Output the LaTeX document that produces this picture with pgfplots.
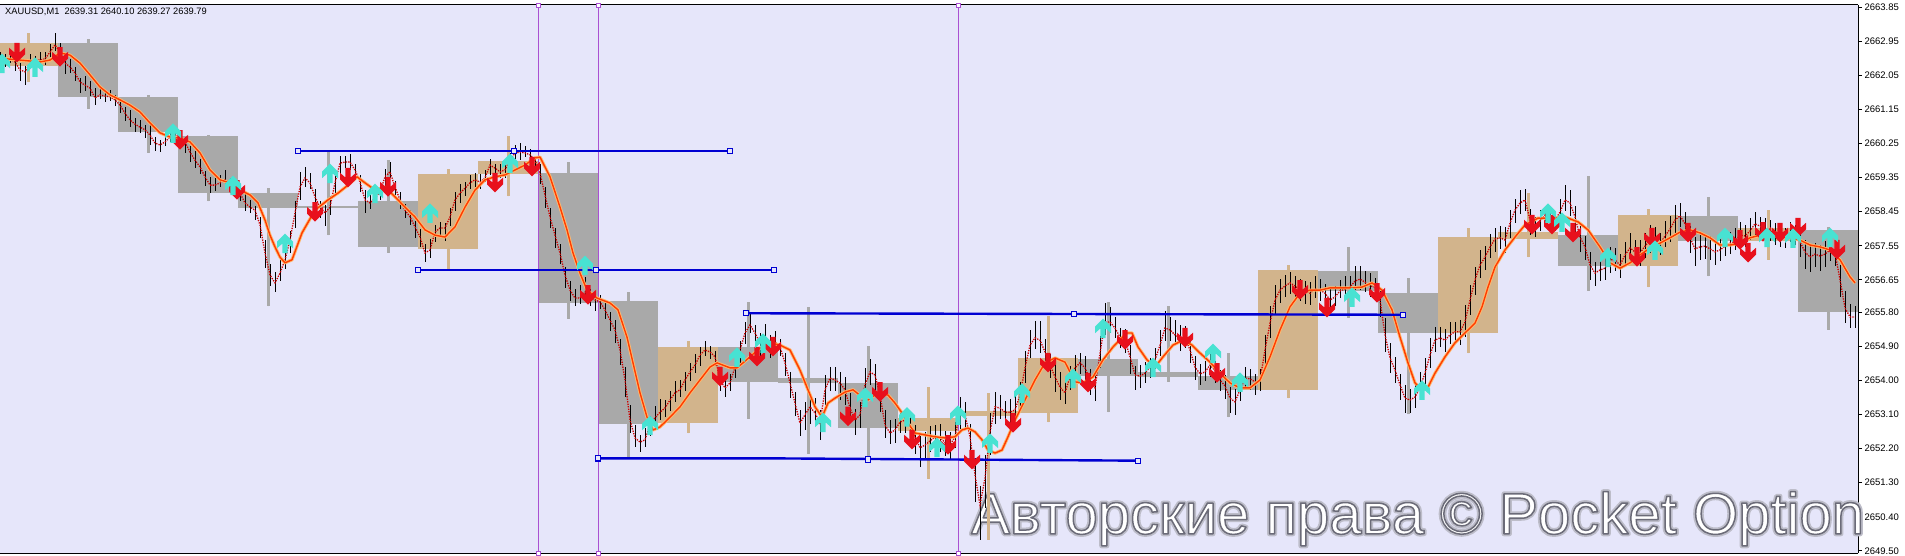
\documentclass[border=0pt]{standalone}
\usepackage{fontspec}
\setmainfont{Liberation Sans}
\usepackage{pgfplots}
\pgfplotsset{compat=1.18}
\usepackage{pgfplotstable}
\definecolor{bg}{RGB}{230,230,250}
\definecolor{boxtan}{RGB}{210,180,140}
\definecolor{boxgray}{RGB}{169,169,169}
\definecolor{maorange}{RGB}{255,60,0}
\definecolor{mahalo}{RGB}{255,185,110}
\definecolor{lvl}{RGB}{0,0,210}
\definecolor{vline}{RGB}{170,80,210}
\definecolor{arrred}{RGB}{232,16,28}
\definecolor{arrcyan}{RGB}{72,226,210}
\definecolor{wmhalo}{RGB}{185,185,198}

\pgfdeclareplotmark{dnarrow}{%
 \pgfpathmoveto{\pgfqpoint{-2.7pt}{10pt}}%
 \pgfpathlineto{\pgfqpoint{2.7pt}{10pt}}%
 \pgfpathlineto{\pgfqpoint{2.7pt}{0.5pt}}%
 \pgfpathlineto{\pgfqpoint{8pt}{5.2pt}}%
 \pgfpathlineto{\pgfqpoint{8pt}{-1.5pt}}%
 \pgfpathlineto{\pgfqpoint{0pt}{-9.5pt}}%
 \pgfpathlineto{\pgfqpoint{-8pt}{-1.5pt}}%
 \pgfpathlineto{\pgfqpoint{-8pt}{5.2pt}}%
 \pgfpathlineto{\pgfqpoint{-2.7pt}{0.5pt}}%
 \pgfpathclose\pgfusepathqfill}
\pgfdeclareplotmark{uparrow}{%
 \pgfpathmoveto{\pgfqpoint{-2.7pt}{-10pt}}%
 \pgfpathlineto{\pgfqpoint{2.7pt}{-10pt}}%
 \pgfpathlineto{\pgfqpoint{2.7pt}{-0.5pt}}%
 \pgfpathlineto{\pgfqpoint{8pt}{-5.2pt}}%
 \pgfpathlineto{\pgfqpoint{8pt}{1.5pt}}%
 \pgfpathlineto{\pgfqpoint{0pt}{9.5pt}}%
 \pgfpathlineto{\pgfqpoint{-8pt}{1.5pt}}%
 \pgfpathlineto{\pgfqpoint{-8pt}{-5.2pt}}%
 \pgfpathlineto{\pgfqpoint{-2.7pt}{-0.5pt}}%
 \pgfpathclose\pgfusepathqfill}

\pgfplotstableread{
xc bl bh wl wh
28 2662.29 2662.90 2661.87 2663.16
448 2657.47 2659.44 2656.91 2659.58
508 2659.44 2659.79 2658.86 2660.45
688 2652.87 2654.88 2652.61 2655.04
928 2652.66 2653.01 2651.40 2653.82
988 2653.06 2653.19 2649.79 2653.67
1048 2653.14 2654.59 2652.90 2655.70
1288 2653.75 2656.91 2653.53 2657.04
1468 2655.25 2657.78 2654.72 2658.02
1528 2657.73 2657.91 2657.25 2658.94
1648 2657.02 2658.36 2656.46 2658.52
1768 2657.68 2658.02 2657.18 2658.49
}\tanboxes

\pgfplotstableread{
xc bl bh wl wh
88 2661.48 2662.90 2661.16 2663.01
148 2660.55 2661.48 2660.00 2661.53
208 2658.94 2660.45 2658.73 2660.47
268 2658.55 2658.94 2655.96 2659.07
328 2658.55 2658.60 2657.83 2660.08
388 2657.52 2658.73 2657.36 2659.81
568 2656.04 2659.47 2655.62 2659.76
628 2652.85 2656.09 2651.95 2656.33
748 2653.96 2654.88 2652.98 2656.07
808 2653.93 2654.06 2652.06 2655.94
868 2652.74 2653.93 2651.98 2654.91
1108 2654.11 2654.56 2653.16 2656.07
1168 2654.09 2654.22 2653.96 2655.96
1228 2653.75 2654.11 2653.03 2654.72
1348 2656.36 2656.88 2655.65 2657.52
1408 2655.25 2656.30 2653.11 2656.70
1588 2657.02 2657.83 2656.36 2659.39
1708 2657.68 2658.34 2656.75 2658.84
1828 2655.80 2657.97 2655.33 2658.05
}\grayboxes

\pgfplotstableread{
x c dn up
0 2662.45 0.15 0.20
5 2662.48 0.20 0.12
10 2662.48 0.12 0.25
15 2662.40 0.25 0.15
20 2662.19 0.30 0.18
25 2662.14 0.35 0.15
30 2662.37 0.15 0.25
35 2662.45 0.18 0.12
40 2662.45 0.12 0.20
45 2662.48 0.15 0.18
50 2662.66 0.12 0.22
55 2662.85 0.15 0.31
60 2662.66 0.20 0.25
65 2662.37 0.28 0.12
70 2662.27 0.15 0.20
75 2662.11 0.22 0.15
80 2661.87 0.30 0.12
85 2661.79 0.15 0.25
90 2661.71 0.20 0.18
95 2661.45 0.18 0.25
100 2661.53 0.12 0.20
105 2661.50 0.15 0.15
110 2661.48 0.10 0.18
115 2661.40 0.15 0.12
120 2661.26 0.20 0.10
125 2661.05 0.22 0.15
130 2660.87 0.18 0.25
135 2660.76 0.20 0.15
140 2660.68 0.15 0.20
145 2660.61 0.22 0.12
150 2660.47 0.25 0.30
155 2660.26 0.20 0.15
160 2660.21 0.18 0.12
165 2660.29 0.10 0.22
170 2660.42 0.12 0.30
175 2660.47 0.15 0.25
180 2660.42 0.20 0.15
185 2660.29 0.30 0.12
190 2660.02 0.25 0.15
195 2659.81 0.22 0.25
200 2659.63 0.18 0.20
205 2659.37 0.25 0.15
210 2659.15 0.20 0.22
215 2659.15 0.15 0.18
220 2659.21 0.12 0.20
225 2659.29 0.15 0.25
230 2659.21 0.20 0.12
235 2659.07 0.15 0.18
240 2658.94 0.22 0.15
245 2658.68 0.20 0.25
250 2658.57 0.15 0.20
255 2658.49 0.25 0.12
260 2658.10 0.35 0.20
265 2657.36 0.40 0.35
270 2656.78 0.30 0.30
275 2656.57 0.25 0.30
280 2656.83 0.20 0.35
285 2657.18 0.25 0.30
290 2657.70 0.35 0.25
295 2658.42 0.40 0.30
300 2659.10 0.35 0.40
305 2659.34 0.25 0.30
310 2659.21 0.15 0.25
315 2658.84 0.25 0.20
320 2658.57 0.30 0.15
325 2658.42 0.35 0.20
330 2658.57 0.20 0.30
335 2659.21 0.35 0.25
340 2659.73 0.30 0.20
345 2659.76 0.15 0.15
350 2659.76 0.20 0.22
355 2659.55 0.18 0.15
360 2659.23 0.25 0.20
365 2658.76 0.35 0.25
370 2658.68 0.15 0.20
375 2658.81 0.12 0.18
380 2658.97 0.20 0.15
385 2659.37 0.25 0.20
390 2659.50 0.15 0.25
395 2659.10 0.20 0.15
400 2658.76 0.25 0.20
405 2658.49 0.20 0.15
410 2658.31 0.22 0.18
415 2658.05 0.30 0.15
420 2657.78 0.25 0.20
425 2657.36 0.25 0.25
430 2657.44 0.20 0.30
435 2657.91 0.25 0.20
440 2658.02 0.20 0.15
445 2658.02 0.35 0.12
450 2658.31 0.25 0.25
455 2658.76 0.30 0.20
460 2658.94 0.25 0.25
465 2659.07 0.20 0.15
470 2659.21 0.15 0.20
475 2659.29 0.20 0.18
480 2659.23 0.18 0.22
485 2659.34 0.12 0.20
490 2659.68 0.25 0.15
495 2659.60 0.20 0.12
500 2659.50 0.15 0.20
505 2659.55 0.20 0.18
510 2659.81 0.22 0.20
515 2660.00 0.15 0.22
520 2660.02 0.20 0.25
525 2660.00 0.12 0.18
530 2659.95 0.25 0.15
535 2659.81 0.20 0.12
540 2659.47 0.30 0.25
545 2658.89 0.35 0.20
550 2658.31 0.30 0.25
555 2657.83 0.35 0.20
560 2657.36 0.30 0.25
565 2656.78 0.35 0.20
570 2656.38 0.30 0.25
575 2656.17 0.20 0.25
580 2656.17 0.15 0.35
585 2656.33 0.20 0.40
590 2656.20 0.25 0.20
595 2656.12 0.30 0.15
600 2656.07 0.20 0.18
605 2655.86 0.25 0.20
610 2655.59 0.30 0.20
615 2655.33 0.35 0.25
620 2654.80 0.40 0.30
625 2654.01 0.45 0.35
630 2652.95 0.35 0.40
635 2652.48 0.25 0.35
640 2652.37 0.25 0.20
645 2652.43 0.20 0.30
650 2652.82 0.30 0.25
655 2653.01 0.25 0.30
660 2653.16 0.20 0.35
665 2653.27 0.25 0.20
670 2653.48 0.30 0.25
675 2653.67 0.25 0.30
680 2653.75 0.20 0.25
685 2654.01 0.30 0.20
690 2654.22 0.25 0.25
695 2654.40 0.20 0.30
700 2654.67 0.30 0.20
705 2654.80 0.15 0.25
710 2654.75 0.20 0.15
715 2654.62 0.25 0.15
720 2654.01 0.30 0.25
725 2653.80 0.25 0.20
730 2653.93 0.20 0.25
735 2654.35 0.30 0.20
740 2654.80 0.35 0.25
745 2655.25 0.30 0.30
750 2655.46 0.20 0.30
755 2655.25 0.25 0.20
760 2654.99 0.35 0.25
765 2655.14 0.30 0.35
770 2654.99 0.40 0.20
775 2655.01 0.30 0.30
780 2654.88 0.25 0.20
785 2654.46 0.35 0.25
790 2653.93 0.40 0.30
795 2653.40 0.35 0.30
800 2652.87 0.35 0.35
805 2653.09 0.40 0.35
810 2653.30 0.45 0.30
815 2653.14 0.35 0.40
820 2652.87 0.45 0.35
825 2653.75 0.40 0.40
830 2654.06 0.35 0.30
835 2654.01 0.30 0.35
840 2653.93 0.45 0.30
845 2653.75 0.40 0.35
850 2653.27 0.35 0.40
855 2652.95 0.40 0.30
860 2653.09 0.35 0.35
865 2653.88 0.40 0.45
870 2654.22 0.35 0.35
875 2654.14 0.40 0.30
880 2653.61 0.45 0.35
885 2652.82 0.35 0.40
890 2652.61 0.30 0.35
895 2652.69 0.35 0.30
900 2652.90 0.30 0.35
905 2652.95 0.35 0.30
910 2652.82 0.40 0.35
915 2652.51 0.45 0.30
920 2652.22 0.50 0.30
925 2652.29 0.35 0.35
930 2652.40 0.30 0.40
935 2652.51 0.35 0.30
940 2652.51 0.40 0.35
945 2652.35 0.35 0.30
950 2652.29 0.40 0.35
955 2652.51 0.30 0.40
960 2653.16 0.45 0.40
965 2653.09 0.40 0.35
970 2652.51 0.50 0.35
975 2651.50 0.70 0.45
980 2650.71 0.92 0.50
985 2651.42 0.80 0.60
990 2652.64 0.60 0.50
995 2653.30 0.45 0.40
1000 2653.27 0.30 0.35
1005 2653.16 0.35 0.30
1010 2653.16 0.30 0.35
1015 2653.22 0.35 0.40
1020 2653.61 0.40 0.35
1025 2654.33 0.40 0.45
1030 2654.93 0.35 0.40
1035 2655.12 0.30 0.45
1040 2655.06 0.35 0.50
1045 2654.75 0.40 0.35
1050 2654.40 0.35 0.30
1055 2654.09 0.40 0.35
1060 2653.82 0.35 0.40
1065 2653.67 0.30 0.35
1070 2654.09 0.35 0.30
1075 2654.33 0.30 0.35
1080 2654.46 0.30 0.25
1085 2654.33 0.35 0.30
1090 2654.01 0.40 0.30
1095 2653.80 0.35 0.35
1100 2654.72 0.40 0.45
1105 2655.54 0.35 0.50
1110 2655.54 0.30 0.40
1115 2655.38 0.25 0.30
1120 2655.14 0.30 0.25
1125 2655.06 0.35 0.30
1130 2654.62 0.45 0.30
1135 2654.14 0.40 0.25
1140 2654.11 0.30 0.30
1145 2654.19 0.25 0.30
1150 2654.35 0.30 0.25
1155 2654.54 0.25 0.30
1160 2654.93 0.30 0.40
1165 2655.38 0.35 0.45
1170 2655.33 0.30 0.35
1175 2655.20 0.25 0.40
1180 2655.12 0.35 0.35
1185 2655.14 0.30 0.30
1190 2654.80 0.35 0.25
1195 2654.35 0.35 0.30
1200 2654.17 0.30 0.25
1205 2654.22 0.25 0.30
1210 2654.40 0.30 0.35
1215 2654.27 0.35 0.25
1220 2654.01 0.30 0.25
1225 2653.85 0.35 0.30
1230 2653.53 0.40 0.30
1235 2653.43 0.35 0.35
1240 2653.75 0.30 0.30
1245 2654.06 0.25 0.30
1250 2654.04 0.30 0.25
1255 2653.96 0.35 0.20
1260 2654.01 0.30 0.30
1265 2654.80 0.45 0.40
1270 2655.51 0.40 0.45
1275 2656.12 0.40 0.40
1280 2656.38 0.35 0.30
1285 2656.49 0.30 0.30
1290 2656.57 0.30 0.30
1295 2656.49 0.35 0.25
1300 2656.38 0.30 0.30
1305 2656.36 0.35 0.25
1310 2656.30 0.30 0.30
1315 2656.41 0.25 0.35
1320 2656.38 0.30 0.30
1325 2656.30 0.35 0.25
1330 2656.12 0.30 0.30
1335 2656.20 0.25 0.30
1340 2656.36 0.20 0.30
1345 2656.41 0.25 0.35
1350 2656.46 0.30 0.30
1355 2656.62 0.25 0.40
1360 2656.67 0.30 0.35
1365 2656.59 0.25 0.30
1370 2656.49 0.30 0.35
1375 2656.46 0.35 0.25
1380 2656.12 0.45 0.30
1385 2655.20 0.45 0.45
1390 2654.59 0.40 0.40
1395 2654.27 0.35 0.35
1400 2653.88 0.40 0.30
1405 2653.53 0.40 0.35
1410 2653.48 0.35 0.30
1415 2653.56 0.30 0.35
1420 2653.82 0.35 0.40
1425 2654.19 0.40 0.40
1430 2654.67 0.35 0.45
1435 2655.06 0.30 0.35
1440 2655.12 0.25 0.30
1445 2655.06 0.30 0.30
1450 2655.20 0.25 0.35
1455 2655.28 0.30 0.25
1460 2655.28 0.35 0.30
1465 2655.54 0.40 0.45
1470 2656.12 0.40 0.40
1475 2656.65 0.40 0.35
1480 2657.04 0.35 0.40
1485 2657.25 0.35 0.30
1490 2657.52 0.30 0.35
1495 2657.73 0.35 0.30
1500 2657.76 0.30 0.30
1505 2657.70 0.35 0.35
1510 2658.15 0.40 0.35
1515 2658.49 0.35 0.30
1520 2658.68 0.30 0.35
1525 2658.76 0.30 0.30
1530 2658.23 0.40 0.30
1535 2658.07 0.30 0.25
1540 2658.20 0.25 0.30
1545 2658.36 0.30 0.25
1550 2658.26 0.25 0.30
1555 2658.23 0.30 0.25
1560 2658.44 0.25 0.35
1565 2658.76 0.30 0.40
1570 2658.68 0.35 0.35
1575 2658.31 0.40 0.30
1580 2657.78 0.40 0.30
1585 2657.52 0.35 0.30
1590 2657.04 0.40 0.35
1595 2656.83 0.35 0.30
1600 2656.91 0.30 0.35
1605 2656.96 0.30 0.30
1610 2657.18 0.35 0.35
1615 2657.18 0.30 0.30
1620 2657.04 0.35 0.30
1625 2657.31 0.30 0.35
1630 2657.49 0.35 0.40
1635 2657.39 0.30 0.30
1640 2657.36 0.35 0.35
1645 2657.54 0.30 0.35
1650 2657.70 0.35 0.40
1655 2657.70 0.30 0.35
1660 2657.60 0.30 0.30
1665 2657.81 0.30 0.40
1670 2657.99 0.35 0.35
1675 2658.23 0.35 0.40
1680 2658.34 0.30 0.35
1685 2658.13 0.35 0.30
1690 2657.76 0.40 0.30
1695 2657.47 0.45 0.30
1700 2657.52 0.35 0.35
1705 2657.54 0.35 0.30
1710 2657.47 0.30 0.35
1715 2657.39 0.35 0.30
1720 2657.44 0.30 0.30
1725 2657.54 0.25 0.35
1730 2657.62 0.30 0.30
1735 2657.68 0.25 0.35
1740 2657.83 0.30 0.35
1745 2657.81 0.30 0.30
1750 2657.94 0.25 0.35
1755 2658.13 0.30 0.30
1760 2658.07 0.30 0.25
1765 2657.99 0.25 0.30
1770 2657.97 0.30 0.25
1775 2657.86 0.30 0.30
1780 2657.78 0.25 0.30
1785 2657.78 0.30 0.25
1790 2657.89 0.25 0.30
1795 2657.86 0.30 0.25
1800 2657.65 0.40 0.30
1805 2657.39 0.45 0.30
1810 2657.25 0.40 0.35
1815 2657.33 0.35 0.30
1820 2657.28 0.40 0.30
1825 2657.33 0.35 0.35
1830 2657.44 0.30 0.35
1835 2657.36 0.35 0.30
1840 2656.65 0.45 0.40
1845 2655.91 0.40 0.45
1850 2655.67 0.30 0.35
1855 2655.67 0.30 0.30
}\bars

\pgfplotstableread{
x y
0 2662.50
20 2662.45
40 2662.40
50 2662.45
60 2662.64
70 2662.58
80 2662.37
90 2662.06
100 2661.74
110 2661.53
120 2661.40
130 2661.26
140 2661.08
150 2660.79
160 2660.53
170 2660.42
180 2660.39
190 2660.29
200 2660.00
210 2659.55
220 2659.29
230 2659.21
240 2659.02
250 2658.89
258 2658.68
265 2658.23
270 2657.83
275 2657.52
280 2657.25
285 2657.10
292 2657.18
302 2657.89
315 2658.49
328 2658.76
338 2658.94
348 2659.15
357 2659.37
365 2659.21
375 2659.02
385 2659.10
395 2658.84
405 2658.57
415 2658.31
425 2657.97
435 2657.83
445 2657.78
455 2658.05
465 2658.57
475 2659.02
485 2659.29
495 2659.37
505 2659.42
515 2659.55
525 2659.68
535 2659.87
540 2659.89
550 2659.37
560 2658.57
567 2657.97
573 2657.36
580 2656.83
587 2656.38
597 2656.17
610 2656.04
618 2655.86
627 2655.14
633 2654.46
640 2653.67
647 2653.03
653 2652.69
660 2652.77
670 2653.03
680 2653.30
690 2653.67
700 2654.01
710 2654.35
717 2654.46
723 2654.40
730 2654.33
737 2654.33
743 2654.46
750 2654.62
760 2654.85
770 2654.99
780 2654.93
790 2654.80
800 2654.27
808 2653.75
815 2653.30
822 2653.03
828 2653.40
835 2653.53
845 2653.69
853 2653.75
862 2653.56
868 2653.48
878 2653.67
888 2653.61
895 2653.40
902 2653.14
908 2652.87
915 2652.61
925 2652.56
935 2652.51
945 2652.48
955 2652.51
962 2652.69
968 2652.74
975 2652.64
982 2652.43
988 2652.16
995 2652.08
1002 2652.16
1008 2652.51
1015 2652.95
1025 2653.48
1035 2654.01
1045 2654.46
1055 2654.59
1065 2654.48
1075 2653.96
1083 2653.93
1093 2654.09
1103 2654.54
1113 2654.88
1127 2655.25
1132 2655.25
1138 2654.88
1147 2654.54
1155 2654.35
1163 2654.62
1173 2654.93
1183 2655.06
1192 2654.93
1200 2654.72
1210 2654.48
1220 2654.19
1230 2653.93
1240 2653.80
1250 2653.80
1260 2654.01
1270 2654.62
1280 2655.33
1290 2655.94
1300 2656.30
1310 2656.38
1320 2656.38
1330 2656.44
1352 2656.44
1362 2656.46
1372 2656.57
1382 2656.38
1392 2655.86
1400 2655.14
1408 2654.46
1415 2653.93
1422 2653.75
1428 2653.82
1435 2654.19
1445 2654.62
1455 2654.99
1465 2655.25
1475 2655.51
1482 2655.94
1488 2656.46
1495 2656.99
1505 2657.44
1515 2657.78
1525 2658.10
1538 2658.28
1552 2658.28
1565 2658.31
1578 2658.18
1588 2657.97
1600 2657.52
1610 2657.10
1620 2656.96
1630 2657.10
1640 2657.31
1650 2657.49
1660 2657.62
1670 2657.76
1680 2657.91
1690 2657.97
1700 2657.89
1710 2657.76
1720 2657.57
1730 2657.57
1740 2657.62
1750 2657.76
1760 2657.83
1770 2657.83
1780 2657.78
1790 2657.76
1800 2657.70
1810 2657.57
1820 2657.52
1830 2657.44
1840 2657.18
1850 2656.73
1855 2656.57
}\slowma

\newcommand\wmfont{\fontsize{58.1}{60}\selectfont}

\pgfplotsset{
  nomarks/.style={only marks, mark=none, mark size=0pt, mark options={draw=none, fill=none}},
  boxbody/.style={nomarks, forget plot,
    error bars/.cd, y dir=plus, y explicit, error mark=none,
    error bar style={line width=60pt, draw=#1}},
  boxwick/.style={nomarks, forget plot,
    error bars/.cd, y dir=plus, y explicit, error mark=none,
    error bar style={line width=3pt, draw=#1}},
}

\begin{document}
\begin{tikzpicture}[x=1pt,y=1pt]
\begin{axis}[
  at={(0pt,2pt)}, anchor=south west,
  scale only axis, width=1858pt, height=548pt,
  xmin=0, xmax=1858, ymin=2649.444, ymax=2663.903,
  axis background/.style={fill=bg},
  axis x line*=box, axis y line*=right,
  axis line style={black, line width=1pt},
  xtick=\empty,
  ytick={2649.50,2650.40,2651.30,2652.20,2653.10,2654.00,2654.90,2655.80,2656.65,2657.55,2658.45,2659.35,2660.25,2661.15,2662.05,2662.95,2663.85},
  yticklabels={2649.50,2650.40,2651.30,2652.20,2653.10,2654.00,2654.90,2655.80,2656.65,2657.55,2658.45,2659.35,2660.25,2661.15,2662.05,2662.95,2663.85},
  tick align=outside, major tick length=4pt,
  ytick style={black, line width=0.8pt},
  yticklabel style={font=\fontsize{9.5}{10}\selectfont, text=black, xshift=-1pt},
  clip mode=individual,
]
% watermark (behind chart objects): soft grey halo, then white fill with grey outline
\node[anchor=base west, inner sep=0pt, font=\wmfont] at (axis cs:971,2649.95)
  {\color{wmhalo}\special{pdf:literal 2 Tr 5 w 1 j 0.74 0.74 0.79 RG}Авторские права © Pocket Option};
\node[anchor=base west, inner sep=0pt, font=\wmfont] at (axis cs:971,2649.95)
  {\color{white}\special{pdf:literal 2 Tr 1.5 w 1 j 0.42 0.42 0.47 RG}Авторские права © Pocket Option};

% higher-timeframe boxes: wicks then bodies
\addplot[boxwick=boxgray] table[x=xc, y=wl, y error plus expr=\thisrow{wh}-\thisrow{wl}] {\grayboxes};
\addplot[boxwick=boxtan] table[x=xc, y=wl, y error plus expr=\thisrow{wh}-\thisrow{wl}] {\tanboxes};
\addplot[boxbody=boxgray] table[x=xc, y=bl, y error plus expr=\thisrow{bh}-\thisrow{bl}] {\grayboxes};
\addplot[boxbody=boxtan] table[x=xc, y=bl, y error plus expr=\thisrow{bh}-\thisrow{bl}] {\tanboxes};

% vertical purple lines
\addplot[vline, line width=0.9pt] coordinates {(538,2649.444) (538,2663.903)};
\addplot[vline, line width=0.9pt] coordinates {(598,2649.444) (598,2663.903)};
\addplot[vline, line width=0.9pt] coordinates {(958,2649.444) (958,2663.903)};

% M1 bars
\addplot[nomarks, error bars/.cd, y dir=both, y explicit, error mark=none,
  error bar style={line width=1pt, draw=black}]
  table[x=x, y=c, y error plus=up, y error minus=dn] {\bars};
% fast MA (dotted)
\addplot[color=red!80!black, line width=1.3pt, dash pattern=on 1.3pt off 1.2pt] table[x=x, y=c] {\bars};
% slow MA
\addplot[mahalo, line width=3.2pt, line join=round] table[x=x, y=y] {\slowma};
\addplot[maorange, line width=1.4pt, line join=round] table[x=x, y=y] {\slowma};

% blue levels
\addplot[lvl, line width=2.4pt] coordinates {(298,2660.05) (730,2660.05)};
\addplot[lvl, line width=2.4pt] coordinates {(418,2656.91) (774,2656.91)};
\addplot[lvl, line width=2.4pt] coordinates {(746,2655.77) (1403,2655.73)};
\addplot[lvl, line width=2.4pt] coordinates {(598,2651.94) (778,2651.94) (1138,2651.88)};

% arrows
\addplot[only marks, mark=dnarrow, mark options={fill=arrred, draw=none}] coordinates {
(17,2662.64) (60,2662.53) (180,2660.34) (237,2659.02) (315,2658.44) (348,2659.34) (388,2659.10) (495,2659.21) (532,2659.63) (588,2656.25) (720,2654.09) (757,2654.62) (773,2654.88) (848,2653.04) (880,2653.69) (912,2652.43) (948,2652.29) (972,2651.90) (1013,2652.87) (1048,2654.46) (1088,2653.93) (1125,2655.06) (1185,2655.12) (1217,2654.19) (1300,2656.38) (1327,2655.91) (1377,2656.30) (1532,2658.10) (1552,2658.10) (1573,2657.89) (1637,2657.25) (1652,2657.76) (1688,2657.89) (1740,2657.70) (1748,2657.36) (1763,2657.91) (1780,2657.89) (1798,2658.02) (1837,2657.44)};
\addplot[only marks, mark=uparrow, mark options={fill=arrcyan, draw=none}] coordinates {
(2,2662.37) (35,2662.27) (173,2660.53) (233,2659.15) (285,2657.62) (330,2659.47) (375,2658.94) (430,2658.42) (510,2659.73) (585,2657.04) (650,2652.82) (737,2654.62) (763,2654.99) (823,2652.90) (865,2653.56) (907,2653.04) (937,2652.24) (958,2653.09) (990,2652.35) (1022,2653.67) (1073,2654.06) (1103,2655.38) (1153,2654.35) (1213,2654.72) (1240,2653.96) (1352,2656.20) (1422,2653.75) (1548,2658.42) (1562,2658.18) (1608,2657.25) (1655,2657.44) (1725,2657.78) (1767,2657.78) (1793,2657.76) (1830,2657.78)};

% level anchor squares
\addplot[only marks, mark=square*, mark size=2.6pt, mark options={fill=bg, draw=lvl, line width=1.1pt}] coordinates {
(298,2660.05) (514,2660.05) (730,2660.05)
(418,2656.91) (596,2656.91) (774,2656.91)
(746,2655.77) (1074,2655.75) (1403,2655.73)
(598,2651.94) (868,2651.91) (1138,2651.88)};
% purple line end squares
\addplot[only marks, mark=square*, mark size=2pt, mark options={fill=white, draw=vline, line width=0.8pt}] coordinates {
(538,2663.903) (598,2663.903) (958,2663.903) (538,2649.444) (598,2649.444) (958,2649.444)};
\end{axis}
\node[anchor=west, inner sep=0pt, font=\fontsize{9.3}{10}\selectfont] at (5,543) {XAUUSD,M1\ \ 2639.31 2640.10 2639.27 2639.79};
\pgfresetboundingbox
\useasboundingbox (0,0) rectangle (1905,555);
\end{tikzpicture}
\end{document}
